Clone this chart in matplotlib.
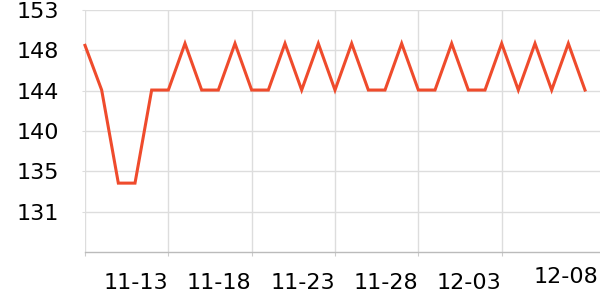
import matplotlib
matplotlib.use('Agg')
import matplotlib.pyplot as plt
import numpy as np

# daily values, 11-08 .. 12-08
dates = ['11-08', '11-09', '11-10', '11-11', '11-12', '11-13', '11-14', '11-15',
         '11-16', '11-17', '11-18', '11-19', '11-20', '11-21', '11-22', '11-23',
         '11-24', '11-25', '11-26', '11-27', '11-28', '11-29', '11-30', '12-01',
         '12-02', '12-03', '12-04', '12-05', '12-06', '12-07', '12-08']
values = [149.2, 144.4, 134.4, 134.4, 144.4, 144.4, 149.4, 144.4,
          144.4, 149.4, 144.4, 144.4, 149.4, 144.4, 149.4, 144.4,
          149.4, 144.4, 144.4, 149.4, 144.4, 144.4, 149.4, 144.4,
          144.4, 149.4, 144.4, 149.4, 144.4, 149.4, 144.4]
y_min, y_max = 127, 153

x = np.arange(len(dates))

fig = plt.figure(figsize=(6, 3), dpi=100)
ax = fig.add_axes([85 / 600, 1 - 252 / 300, 1 - 85 / 600, (252 - 10) / 300])

ax.plot(x, values, color='#ef4b2c', lw=2.2, solid_joinstyle='miter', clip_on=False, zorder=3)

ax.set_xlim(0, 30.9)
ax.set_ylim(y_min, y_max)

yt = np.linspace(y_min, y_max, 7)[1:]
ax.set_yticks(yt)
ax.set_yticklabels([str(int(v)) for v in yt])

major = list(range(0, 30, 5))
ax.set_xticks(major)
ax.set_xticklabels([''] + [dates[i] for i in major[1:]], ha='right')

# last date label sits a bit to the right of its day
ax.annotate(dates[-1], xy=(x[-1], 0), xycoords=ax.get_xaxis_transform(),
            xytext=(9.5, -11), textcoords='offset points',
            ha='right', va='top', fontsize=16, annotation_clip=False)

ax.grid(True, which='major', color='#dddddd', lw=1)
ax.tick_params(axis='y', length=2, color='#dddddd', labelsize=16, pad=17)
ax.tick_params(axis='x', which='major', length=3, color='#cccccc', labelsize=16, pad=12)

for s in ['top', 'right', 'left']:
    ax.spines[s].set_visible(False)
ax.spines['bottom'].set_color('#bbbbbb')
ax.spines['bottom'].set_linewidth(1)

fig.savefig('out.png', dpi=100)
